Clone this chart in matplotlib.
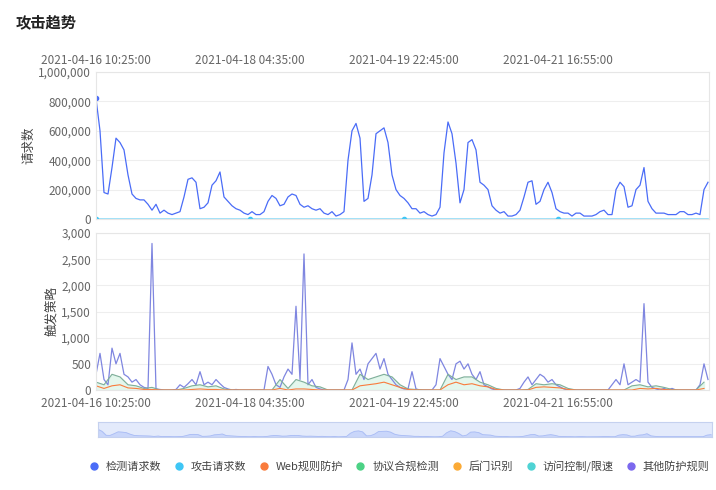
import matplotlib
matplotlib.use("Agg")
import matplotlib.pyplot as plt
import pandas as pd
import numpy as np
from matplotlib.ticker import FuncFormatter, MultipleLocator

plt.rcParams["font.family"] = ["Noto Sans CJK SC", "DejaVu Sans"]

title = "攻击趋势"
start = pd.Timestamp("2021-04-16 10:25")
tick_labels = ["2021-04-16 10:25:00", "2021-04-18 04:35:00", "2021-04-19 22:45:00", "2021-04-21 16:55:00"]
series_names = ["检测请求数", "攻击请求数", "Web规则防护", "协议合规检测", "后门识别", "访问控制/限速", "其他防护规则"]
colors = ["#4a6cf7", "#3ec6f5", "#f97b3c", "#4cd285", "#fbaa35", "#4fd3d4", "#7b68ee"]

# 检测请求数 (thousands)
detect_k = [820,600,180,170,350,550,520,470,300,170,140,130,130,100,60,100,40,60,40,30,
            40,50,150,270,280,250,70,80,110,230,260,320,150,120,90,70,60,40,30,50,
            30,30,50,120,160,140,90,100,150,170,160,100,80,90,70,60,70,40,30,50,
            20,30,50,400,600,650,550,120,140,300,580,600,620,520,300,200,160,140,110,70,
            70,40,50,30,20,30,80,450,660,580,380,110,200,520,540,470,250,230,200,90,
            60,40,50,20,20,30,60,150,250,260,100,120,200,250,180,70,50,40,40,20,
            40,40,20,20,20,30,50,60,30,30,200,250,220,80,90,200,230,350,120,70,
            40,40,40,30,30,30,50,50,30,30,40,30,200,250]
attack = [0]*len(detect_k)

other = [300,700,200,100,800,500,700,300,250,150,200,100,50,30,2800,20,10,0,0,0,
         10,100,50,120,200,100,350,100,150,100,200,120,50,20,0,10,0,0,0,0,
         0,0,0,450,300,100,50,250,400,300,1600,200,2600,100,200,50,20,0,0,0,
         0,0,0,200,900,300,400,200,500,600,700,400,600,300,200,100,50,20,20,350,
         20,0,0,0,0,100,600,450,300,200,500,550,400,500,300,200,350,100,60,20,
         0,0,0,0,0,0,30,150,250,100,200,300,250,150,200,100,60,20,0,0,
         0,0,0,0,0,0,0,0,0,100,200,100,500,100,150,200,150,1650,150,50,
         20,0,30,0,30,0,0,0,0,0,0,100,500,200]

protocol = [150,100,300,250,100,80,30,50,0,0,0,30,80,100,60,80,20,0,0,0,
            0,0,0,200,30,200,150,80,60,0,0,0,0,300,200,250,300,250,100,20,
            10,0,0,0,300,200,250,250,150,100,30,0,0,0,10,120,100,120,100,30,
            0,0,0,0,0,0,0,80,100,60,80,50,10,0,0,0,150]
web = [80,30,80,100,40,30,10,10,0,0,0,0,10,20,10,10,0,0,0,0,
       0,0,0,30,0,20,20,10,0,0,0,0,0,80,100,120,150,100,50,10,
       0,0,0,0,100,150,100,120,80,60,10,0,0,0,0,50,60,50,40,10,
       0,0,0,0,0,0,0,0,30,20,30,10,0,0,0,0,30]

step_min = 2530 / 154 * 4
t_fine = start + pd.to_timedelta(np.arange(len(detect_k)) * step_min, unit="m")
t_coarse = start + pd.to_timedelta(np.arange(len(protocol)) * step_min * 2, unit="m")
tick_pos = [start + pd.Timedelta(minutes=2530 * i) for i in range(4)]
x_end = start + pd.Timedelta(minutes=2530 / 154 * 613)

fig = plt.figure(figsize=(7.16, 4.9), dpi=100)
fig.text(16/716, 1 - 22/490, title, fontsize=11, fontweight="bold", va="center", color="#222")

def style(ax):
    for s in ax.spines.values():
        s.set_color("#e6e6e6")
    ax.grid(axis="y", color="#eeeeee", lw=0.8)
    ax.tick_params(colors="#666", labelsize=8.5, length=0)
    ax.set_xlim(start, x_end)
    ax.set_xticks(tick_pos)

ax1 = fig.add_axes([96/716, 1-219/490, 613/716, 147/490])
style(ax1)
ax1.plot(t_fine, np.array(detect_k) * 1000, color=colors[0], lw=0.9)
ax1.plot(t_fine, attack, color="#8fdcf7", lw=1.2)
ax1.plot(tick_pos, [0]*4, "o", color=colors[1], ms=3)
ax1.plot([t_fine[0]], [detect_k[0]*1000], "o", color=colors[0], ms=3)
ax1.set_ylim(0, 1_000_000)
ax1.yaxis.set_major_locator(MultipleLocator(200_000))
ax1.yaxis.set_major_formatter(FuncFormatter(lambda v, p: f"{int(v):,}"))
ax1.xaxis.tick_top()
ax1.set_xticklabels(tick_labels)
ax1.set_ylabel("请求数", color="#444", fontsize=9, labelpad=2)

ax2 = fig.add_axes([96/716, 1-390/490, 613/716, 157/490])
style(ax2)
ax2.tick_params(axis="x", pad=5)
ax2.fill_between(t_coarse, protocol, color="#d9f5e6", alpha=0.7)
ax2.plot(t_fine, other, color="#7f86e0", lw=0.9)
ax2.plot(t_coarse, protocol, color="#7fae9a", lw=0.8)
ax2.plot(t_coarse, web, color=colors[2], lw=0.8)
ax2.set_ylim(0, 3000)
ax2.yaxis.set_major_locator(MultipleLocator(500))
ax2.yaxis.set_major_formatter(FuncFormatter(lambda v, p: f"{int(v):,}"))
ax2.set_xticklabels(tick_labels)
ax2.set_ylabel("触发策略", color="#444", fontsize=9, labelpad=2)

# slider
ax3 = fig.add_axes([98/716, 1-437/490, 614/716, 15/490])
ax3.set_facecolor("#e3eafb")
ax3.fill_between(t_fine, np.array(detect_k), color="#c9d6fa")
ax3.plot(t_fine, detect_k, color="#a9bcf5", lw=0.6)
ax3.set_xlim(start, x_end)
ax3.set_ylim(0, 1600)
ax3.set_xticks([]); ax3.set_yticks([])
for s in ax3.spines.values():
    s.set_color("#c5d1ef")

handles = [plt.Line2D([], [], marker="o", ls="", color=c, ms=5) for c in colors]
fig.legend(handles, series_names, loc="center", bbox_to_anchor=(396/716, 1-466/490), ncol=7,
           frameon=False, fontsize=8, handletextpad=0.05, columnspacing=0.6, labelcolor="#444")

fig.savefig("out.png", dpi=100)
